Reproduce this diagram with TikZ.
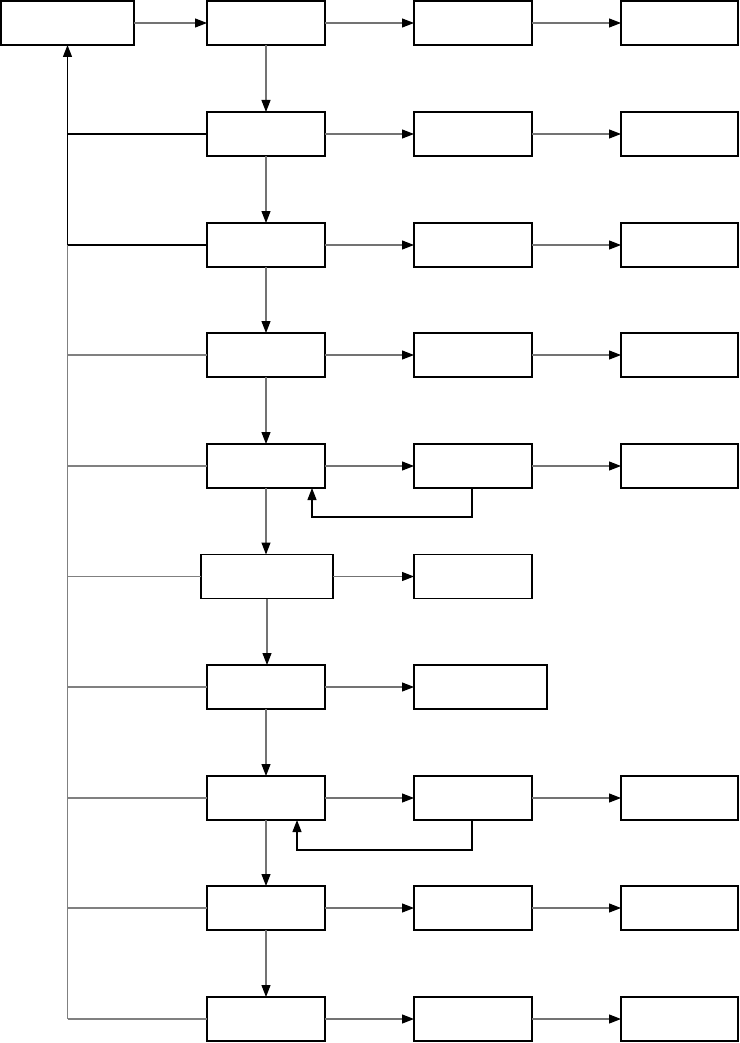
\documentclass[tikz,border=0pt]{standalone}
\usetikzlibrary{arrows.meta,calc}
\begin{document}
\begin{tikzpicture}[x=1pt,y=-1pt,
  box/.style={draw=black,line width=1.2pt,minimum height=44pt,inner sep=0pt,outer sep=0pt},
  conn/.style={draw=black!55,line width=1.1pt,-{Triangle[length=12pt,width=9pt,color=black]}},
  plain/.style={draw=black!50,line width=1.1pt},
  dark/.style={draw=black,line width=1.2pt}]
\useasboundingbox (0,0) rectangle (739,1043);
% column A
\node[box,minimum width=133pt] (A) at (67.5,23) {};
% column B
\foreach \i/\y in {1/23,2/134,3/245,4/355,5/466,7/687,8/798,9/908,10/1019}
  \node[box,minimum width=118pt] (B\i) at (266,\y) {};
\node[box,minimum width=132pt] (B6) at (267,576.5) {};
% column C
\foreach \i/\y in {1/23,2/134,3/245,4/355,5/466,6/576.5,8/798,9/908,10/1019}
  \node[box,minimum width=118pt] (C\i) at (473,\y) {};
\node[box,minimum width=133pt] (C7) at (480.5,687) {};
% column D
\foreach \i/\y in {1/23,2/134,3/245,4/355,5/466,8/798,9/908,10/1019}
  \node[box,minimum width=117pt] (D\i) at (679.5,\y) {};
% horizontal arrows
\draw[conn] (A) -- (B1);
\foreach \i in {1,...,10} \draw[conn] (B\i) -- (C\i);
\foreach \i in {1,2,3,4,5,8,9,10} \draw[conn] (C\i) -- (D\i);
% vertical arrows
\foreach \i/\j in {1/2,2/3,3/4,4/5,5/6,6/7,7/8,8/9,9/10}
  \draw[conn] (B\i.south) -- (B\i.south |- B\j.north);
% spine
\foreach \i in {2,...,10} \coordinate (s\i) at (A.south |- B\i.west);
\draw[plain] (s10) -- (s3);
\draw[dark,-{Triangle[length=12pt,width=9pt]}] (s3) -- (A.south);
\draw[dark] (s2) -- (B2.west);
\draw[dark] (s3) -- (B3.west);
\foreach \i in {4,...,10} \draw[plain] (s\i) -- (B\i.west);
% feedback loops
\draw[dark,-{Triangle[length=12pt,width=9pt]}] ([xshift=-1pt]C5.south) -- ++(0,29) -| ([xshift=46pt]B5.south);
\draw[dark,-{Triangle[length=12pt,width=9pt]}] ([xshift=-1pt]C8.south) -- ++(0,30) -| ([xshift=31pt]B8.south);
\end{tikzpicture}
\end{document}
